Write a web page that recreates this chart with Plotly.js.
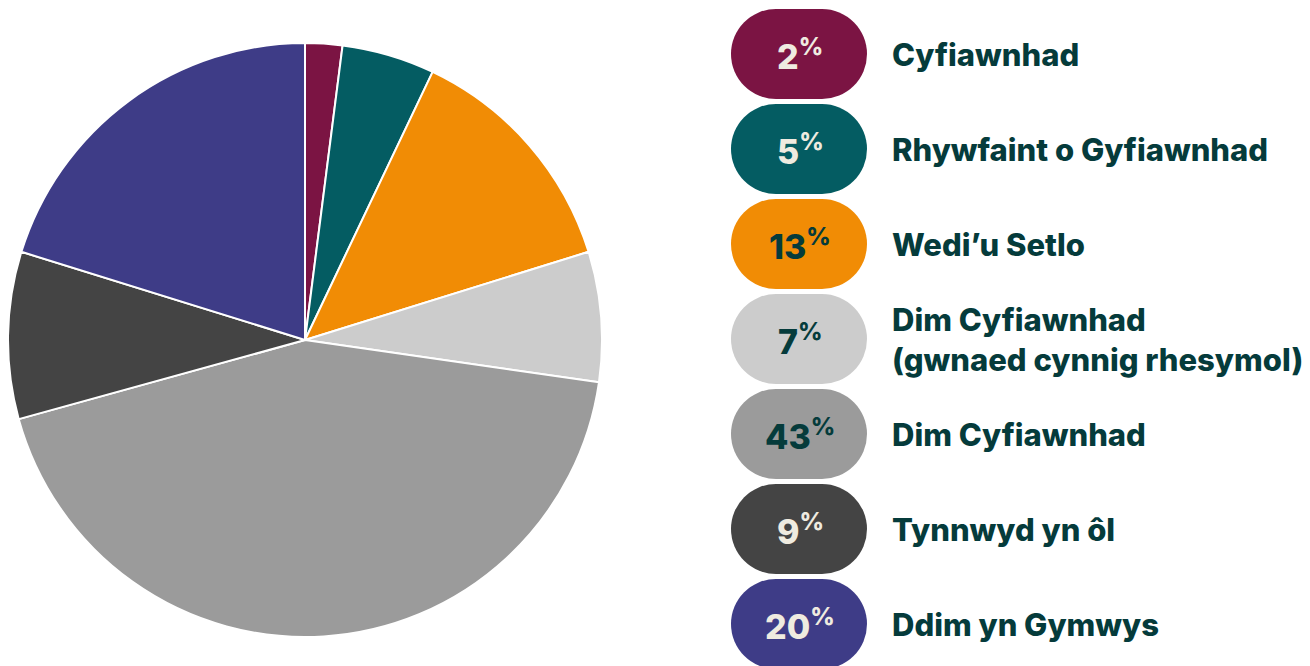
<!DOCTYPE html>
<html>
<head>
<meta charset="utf-8">
<script src="https://cdn.plot.ly/plotly-3.0.1.min.js"></script>
<style>html,body{margin:0;padding:0;background:#fff;}#chart{width:1310px;height:666px;}</style>
</head>
<body>
<div id="chart"></div>
<script>
const categories = ["Cyfiawnhad", "Rhywfaint o Gyfiawnhad", "Wedi\u2019u Setlo", "Dim Cyfiawnhad<br>(gwnaed cynnig rhesymol)", "Dim Cyfiawnhad", "Tynnwyd yn \u00f4l", "Ddim yn Gymwys"];
const values = [2, 5, 13, 7, 43, 9, 20];
const colors = ["#7b1443", "#045c62", "#f18c05", "#cccccc", "#9b9b9b", "#444444", "#3e3c87"];
const pctTextColors = ["#efebe0", "#efebe0", "#053b3b", "#053b3b", "#053b3b", "#efebe0", "#efebe0"];

const W = 1310, H = 666;
const cx = 305, cy = 340, R = 297;

const shapes = [];
const annotations = [];
const pillX0 = 731, pillX1 = 867, pillH = 90, pitch = 95, top0 = 9;
categories.forEach((c, i) => {
  const y0 = top0 + i * pitch, y1 = y0 + pillH, r = pillH / 2;
  shapes.push({type: 'circle', xref: 'x', yref: 'y', x0: pillX0, x1: pillX0 + pillH, y0: y0, y1: y1, fillcolor: colors[i], line: {width: 0}});
  shapes.push({type: 'circle', xref: 'x', yref: 'y', x0: pillX1 - pillH, x1: pillX1, y0: y0, y1: y1, fillcolor: colors[i], line: {width: 0}});
  shapes.push({type: 'rect', xref: 'x', yref: 'y', x0: pillX0 + r, x1: pillX1 - r, y0: y0, y1: y1, fillcolor: colors[i], line: {width: 0}});
  annotations.push({x: (pillX0 + pillX1) / 2 + 1, y: y0 + r, xref: 'x', yref: 'y', text: values[i] + '<sup>%</sup>', showarrow: false, xanchor: 'center', yanchor: 'middle', font: {family: 'Inter, sans-serif', size: 34, weight: 800, color: pctTextColors[i]}});
  annotations.push({x: 890, y: y0 + r, xref: 'x', yref: 'y', text: c, showarrow: false, xanchor: 'left', yanchor: 'middle', align: 'left', font: {family: 'Inter, sans-serif', size: 31, weight: 800, color: '#053b3b'}});
});

const data = [{
  type: 'pie',
  labels: categories,
  values: values,
  sort: false,
  direction: 'clockwise',
  rotation: 0,
  marker: {colors: colors, line: {color: '#ffffff', width: 2}},
  textinfo: 'none',
  hoverinfo: 'label+percent',
  showlegend: false,
  domain: {x: [(cx - R) / W, (cx + R) / W], y: [(H - cy - R) / H, (H - cy + R) / H]}
}];

const layout = {
  width: W, height: H,
  margin: {l: 0, r: 0, t: 0, b: 0},
  paper_bgcolor: '#ffffff', plot_bgcolor: 'rgba(0,0,0,0)',
  showlegend: false,
  xaxis: {range: [0, W], visible: false, fixedrange: true},
  yaxis: {range: [H, 0], visible: false, fixedrange: true},
  shapes: shapes,
  annotations: annotations
};

Plotly.newPlot('chart', data, layout, {displayModeBar: false, staticPlot: true});
</script>
</body>
</html>
